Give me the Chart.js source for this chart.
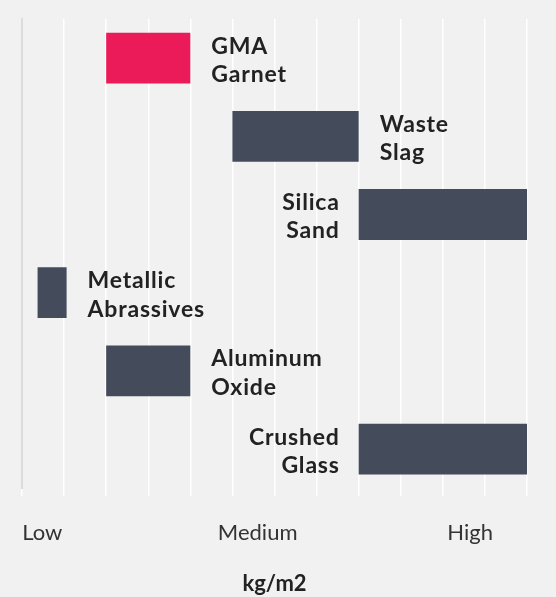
<!DOCTYPE html>
<html>
<head>
<meta charset="utf-8">
<script src="https://cdn.jsdelivr.net/npm/chart.js@4/dist/chart.umd.min.js"></script>
<style>
  html, body { margin: 0; padding: 0; background: #f1f1f1; }
  #wrap { width: 556px; height: 597px; position: relative; }
</style>
</head>
<body>
<div id="wrap"><canvas id="chart"></canvas></div>
<script>
const categories = [
    ["GMA", "Garnet"],
    ["Waste", "Slag"],
    ["Silica", "Sand"],
    ["Metallic", "Abrassives"],
    ["Aluminum", "Oxide"],
    ["Crushed", "Glass"],
];
const rangeStart = [2, 5, 8, 0.37, 2, 8];
const rangeEnd = [4, 8, 12, 1.06, 4, 12];
const tickLabels = ["Low", "Medium", "High"];
const tickValues = [0.48, 5.6, 10.65];
const highlight = "GMA";

const barColors = categories.map((c) =>
    c[0] === highlight ? "#eb1b59" : "#444b5b"
);

// labels sit next to each bar, flipped to the left when the bar hits the end
const barLabels = {
    id: "barLabels",
    afterDatasetsDraw(chart) {
        const ctx = chart.ctx;
        const meta = chart.getDatasetMeta(0);
        const xMax = chart.scales.x.max;
        ctx.save();
        ctx.font = "bold 23px Lato";
        ctx.letterSpacing = "0.8px";
        ctx.fillStyle = "#222222";
        ctx.textBaseline = "alphabetic";
        meta.data.forEach((bar, i) => {
            const lines = categories[i];
            const p = bar.getProps(["x", "y", "base"], true);
            const left = Math.min(p.x, p.base);
            const right = Math.max(p.x, p.base);
            let x;
            if (rangeEnd[i] >= xMax) {
                ctx.textAlign = "right";
                x = left - 19;
            } else {
                ctx.textAlign = "left";
                x = right + 21;
            }
            ctx.fillText(lines[0], x, p.y - 4.5);
            ctx.fillText(lines[1], x, p.y + 23.8);
        });
        ctx.restore();
    },
};

new Chart(document.getElementById("chart"), {
    type: "bar",
    plugins: [barLabels],
    data: {
        labels: categories.map((c) => c.join(" ")),
        datasets: [
            {
                data: rangeStart.map((s, i) => [s, rangeEnd[i]]),
                backgroundColor: barColors,
                borderWidth: 0,
                borderSkipped: false,
                categoryPercentage: 0.65,
                barPercentage: 1,
            },
        ],
    },
    options: {
        indexAxis: "y",
        responsive: true,
        maintainAspectRatio: false,
        animation: false,
        layout: { padding: { left: 22, right: 29, top: 19, bottom: 0 } },
        plugins: {
            legend: { display: false },
            tooltip: { enabled: false },
        },
        scales: {
            x: {
                type: "linear",
                min: 0,
                max: 12,
                grid: {
                    color: "#ffffff",
                    lineWidth: 1.5,
                    drawTicks: true,
                    tickLength: 8,
                    tickColor: "#ffffff",
                },
                border: { display: false },
                afterBuildTicks: (scale) => {
                    scale.ticks = [];
                    for (let v = 0; v <= 12; v++) scale.ticks.push({ value: v });
                },
                ticks: { display: false },
                title: { display: false },
            },
            x2: {
                type: "linear",
                position: "bottom",
                min: 0,
                max: 12,
                grid: { display: false },
                border: { display: false },
                afterBuildTicks: (scale) => {
                    scale.ticks = tickValues.map((v) => ({ value: v }));
                },
                ticks: {
                    autoSkip: false,
                    maxRotation: 0,
                    padding: 16,
                    color: "#333333",
                    font: { family: "Lato", size: 22 },
                    callback: (v, i) => tickLabels[i],
                },
                title: {
                    display: true,
                    text: "kg/m2",
                    color: "#222222",
                    font: { family: "Lato", size: 22, weight: "bold" },
                    padding: { top: 8, bottom: 0 },
                },
            },
            y: {
                grid: { display: false, drawTicks: false },
                border: { display: true, color: "#dcdcdc", width: 2 },
                ticks: { display: false },
            },
        },
    },
});
</script>
</body>
</html>
